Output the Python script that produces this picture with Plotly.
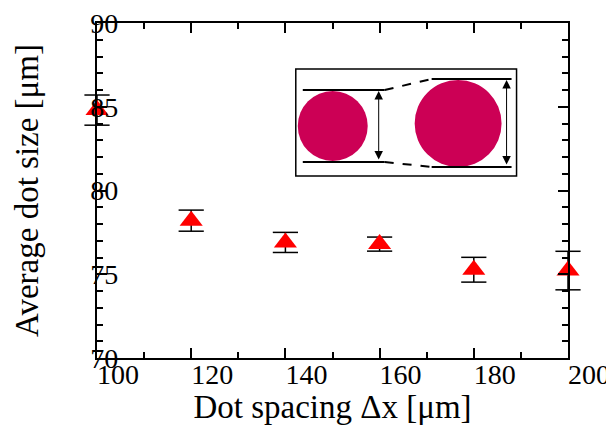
import plotly.graph_objects as go

# Data
dot_spacing = [100, 120, 140, 160, 180, 200]
avg_dot_size = [84.8, 78.2, 76.9, 76.8, 75.27, 75.22]
err = [0.9, 0.63, 0.6, 0.42, 0.74, 1.15]

x_ticks = [100, 120, 140, 160, 180, 200]
y_ticks = [70, 75, 80, 85, 90]

W, H = 606, 425
L, R, T, B = 97, 568.5, 23, 358

FONT = "Liberation Serif, Times New Roman, serif"

lo = [v - e for v, e in zip(avg_dot_size, err)]
hi = [v + e for v, e in zip(avg_dot_size, err)]

# error bar stems (built from the data arrays)
stem_x, stem_y = [], []
for xv, a, b in zip(dot_spacing, lo, hi):
    stem_x += [xv, xv, None]
    stem_y += [a, b, None]

fig = go.Figure()
fig.add_trace(go.Scatter(
    x=stem_x, y=stem_y, mode="lines", line=dict(color="black", width=1.5),
    cliponaxis=False, showlegend=False, hoverinfo="skip",
))
# error bar caps as horizontal line markers (not clipped at plot edges)
fig.add_trace(go.Scatter(
    x=dot_spacing + dot_spacing, y=lo + hi, mode="markers",
    marker=dict(symbol="line-ew", size=18, line=dict(color="black", width=1.5)),
    cliponaxis=False, showlegend=False, hoverinfo="skip",
))
fig.add_trace(go.Scatter(
    x=dot_spacing, y=avg_dot_size, mode="markers",
    marker=dict(symbol="triangle-up", size=20, color="#ff0000", line=dict(width=0)),
    cliponaxis=False, showlegend=False,
))

def px(xp):
    return (xp - L) / (R - L)

def py(yp):
    return (B - yp) / (B - T)

shapes = []
# inset box
shapes.append(dict(type="rect", xref="paper", yref="paper", x0=px(296), x1=px(517), y0=py(176), y1=py(69),
                   line=dict(color="black", width=1.5), fillcolor="white", layer="above"))
# circles
shapes.append(dict(type="circle", xref="paper", yref="paper", x0=px(298), x1=px(368), y0=py(161), y1=py(91),
                   line=dict(width=0), fillcolor="#cc0055", layer="above"))
shapes.append(dict(type="circle", xref="paper", yref="paper", x0=px(415), x1=px(502), y0=py(167), y1=py(80),
                   line=dict(width=0), fillcolor="#cc0055", layer="above"))
# horizontal lines
for (xa, xb, yy) in [(303, 385, 90), (303, 385, 162), (432, 512, 79), (432, 512, 167)]:
    shapes.append(dict(type="line", xref="paper", yref="paper", x0=px(xa), x1=px(xb), y0=py(yy), y1=py(yy),
                       line=dict(color="black", width=2), layer="above"))
# dashed connectors
for (xa, ya, xb, yb) in [(385, 90, 432, 79), (385, 162, 432, 167)]:
    shapes.append(dict(type="line", xref="paper", yref="paper", x0=px(xa), x1=px(xb), y0=py(ya), y1=py(yb),
                       line=dict(color="black", width=2, dash="dash"), layer="above"))

annotations = []
for (xx, ya, yb) in [(379, 91, 161), (507, 80, 166)]:
    annotations.append(dict(xref="paper", yref="paper", x=px(xx), y=py(ya), ax=0, ay=yb - ya,
                            text="", showarrow=True, arrowhead=2, arrowside="end+start",
                            arrowsize=1.7, arrowwidth=1, arrowcolor="black"))

fig.update_layout(
    width=W, height=H,
    margin=dict(l=L, r=W - R, t=T, b=H - B, pad=0),
    plot_bgcolor="white", paper_bgcolor="white",
    font=dict(family=FONT, size=28, color="black"),
    shapes=shapes, annotations=annotations,
    xaxis=dict(
        range=[100, 200], tickvals=x_ticks, ticktext=[str(v) for v in x_ticks],
        ticks="inside", ticklen=10, tickwidth=1.5, tickcolor="black",
        showline=True, linecolor="black", linewidth=1.5, mirror="ticks",
        showgrid=False, zeroline=False,
        minor=dict(dtick=10, ticks="inside", ticklen=6, tickwidth=1.5, tickcolor="black", showgrid=False),
        tickfont=dict(size=28, family=FONT, color="black"), ticklabelshift=21, ticklabelstandoff=-9,
        ticklabeloverflow="allow",
        title=dict(text="Dot spacing Δx [μm]", font=dict(size=33, family=FONT, color="black"), standoff=0),
        automargin=False,
    ),
    yaxis=dict(
        range=[70, 90], tickvals=y_ticks, ticktext=[str(v) for v in y_ticks],
        ticks="inside", ticklen=10, tickwidth=1.5, tickcolor="black",
        showline=True, linecolor="black", linewidth=1.5, mirror="ticks",
        showgrid=False, zeroline=False,
        minor=dict(dtick=1, ticks="inside", ticklen=6, tickwidth=1.5, tickcolor="black", showgrid=False),
        tickfont=dict(size=28, family=FONT, color="black"), ticklabelposition="inside", ticklabeloverflow="allow",
        ticklabelstandoff=-14,
        title=dict(text="Average dot size [μm]", font=dict(size=33, family=FONT, color="black"), standoff=42),
        automargin=False,
    ),
)

fig.write_html("out.html", config={"displayModeBar": False},
               post_script="document.body.style.margin='0';")
